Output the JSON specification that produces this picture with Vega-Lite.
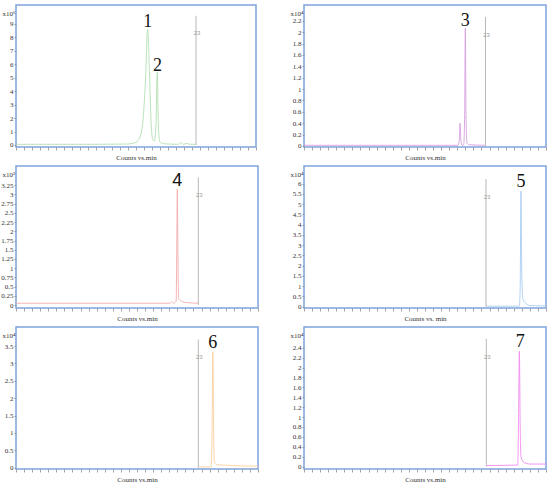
{
  "$schema": "https://vega.github.io/schema/vega-lite/v6.json",
  "description": "Six chromatogram panels (peaks 1-7) with marker lines.",
  "background": "white",
  "padding": {"left": 0, "top": 4, "right": 2, "bottom": 0},
  "datasets": {
    "traces": [
      {"panel": 1, "t": 0, "v": 0.05}, {"panel": 1, "t": 10, "v": 0.05}, {"panel": 1, "t": 14, "v": 0.07},
      {"panel": 1, "t": 15, "v": 0.2}, {"panel": 1, "t": 15.5, "v": 0.6}, {"panel": 1, "t": 15.9, "v": 2},
      {"panel": 1, "t": 16.2, "v": 5}, {"panel": 1, "t": 16.45, "v": 8.6}, {"panel": 1, "t": 16.7, "v": 5},
      {"panel": 1, "t": 16.9, "v": 1.5}, {"panel": 1, "t": 17.1, "v": 0.4}, {"panel": 1, "t": 17.3, "v": 0.3},
      {"panel": 1, "t": 17.5, "v": 1.5}, {"panel": 1, "t": 17.65, "v": 5.4}, {"panel": 1, "t": 17.8, "v": 1.5},
      {"panel": 1, "t": 17.95, "v": 0.3}, {"panel": 1, "t": 18.3, "v": 0.1}, {"panel": 1, "t": 20.3, "v": 0.05},
      {"panel": 1, "t": 20.6, "v": 0.2}, {"panel": 1, "t": 20.9, "v": 0.05}, {"panel": 1, "t": 21.4, "v": 0.12},
      {"panel": 1, "t": 21.7, "v": 0.05}, {"panel": 1, "t": 22.5, "v": 0.05},

      {"panel": 2, "t": 0, "v": 0.01}, {"panel": 2, "t": 19.1, "v": 0.01}, {"panel": 2, "t": 19.25, "v": 0.1},
      {"panel": 2, "t": 19.35, "v": 0.4}, {"panel": 2, "t": 19.45, "v": 0.1}, {"panel": 2, "t": 19.6, "v": 0.01},
      {"panel": 2, "t": 19.8, "v": 0.02}, {"panel": 2, "t": 19.92, "v": 0.6}, {"panel": 2, "t": 20.0, "v": 2.07},
      {"panel": 2, "t": 20.08, "v": 0.6}, {"panel": 2, "t": 20.2, "v": 0.05}, {"panel": 2, "t": 20.5, "v": 0.02},
      {"panel": 2, "t": 22.5, "v": 0.01},

      {"panel": 3, "t": 0, "v": 0.05}, {"panel": 3, "t": 19.1, "v": 0.05}, {"panel": 3, "t": 19.3, "v": 0.09},
      {"panel": 3, "t": 19.5, "v": 0.05}, {"panel": 3, "t": 19.85, "v": 0.1}, {"panel": 3, "t": 19.93, "v": 1.5},
      {"panel": 3, "t": 20.0, "v": 3.14}, {"panel": 3, "t": 20.07, "v": 1.5}, {"panel": 3, "t": 20.15, "v": 0.2},
      {"panel": 3, "t": 20.4, "v": 0.12}, {"panel": 3, "t": 21, "v": 0.07}, {"panel": 3, "t": 22.6, "v": 0.05},

      {"panel": 4, "t": 22.56, "v": 0.02}, {"panel": 4, "t": 26.7, "v": 0.02}, {"panel": 4, "t": 26.8, "v": 1},
      {"panel": 4, "t": 26.9, "v": 5.63}, {"panel": 4, "t": 27.0, "v": 1.5}, {"panel": 4, "t": 27.15, "v": 0.35},
      {"panel": 4, "t": 27.5, "v": 0.15}, {"panel": 4, "t": 28, "v": 0.05}, {"panel": 4, "t": 30, "v": 0.03},

      {"panel": 5, "t": 22.6, "v": 0.02}, {"panel": 5, "t": 24.2, "v": 0.02}, {"panel": 5, "t": 24.3, "v": 1},
      {"panel": 5, "t": 24.4, "v": 3.33}, {"panel": 5, "t": 24.5, "v": 1}, {"panel": 5, "t": 24.6, "v": 0.15},
      {"panel": 5, "t": 25, "v": 0.08}, {"panel": 5, "t": 30, "v": 0.04},

      {"panel": 6, "t": 22.6, "v": 0.02}, {"panel": 6, "t": 26.5, "v": 0.03}, {"panel": 6, "t": 26.6, "v": 1},
      {"panel": 6, "t": 26.7, "v": 2.33}, {"panel": 6, "t": 26.8, "v": 0.8}, {"panel": 6, "t": 26.9, "v": 0.2},
      {"panel": 6, "t": 27.3, "v": 0.08}, {"panel": 6, "t": 28, "v": 0.05}, {"panel": 6, "t": 30, "v": 0.05}
    ],
    "markers": [
      {"panel": 1, "t": 22.5, "v": 9.6},
      {"panel": 2, "t": 22.5, "v": 2.27},
      {"panel": 3, "t": 22.6, "v": 3.46},
      {"panel": 4, "t": 22.56, "v": 6.22},
      {"panel": 5, "t": 22.6, "v": 3.69},
      {"panel": 6, "t": 22.6, "v": 2.58}
    ],
    "tags": [
      {"panel": 1, "t": 22.5, "v": 8.3, "text": "23"},
      {"panel": 2, "t": 22.5, "v": 1.96, "text": "23"},
      {"panel": 3, "t": 22.6, "v": 2.99, "text": "23"},
      {"panel": 4, "t": 22.56, "v": 5.35, "text": "23"},
      {"panel": 5, "t": 22.6, "v": 3.19, "text": "23"},
      {"panel": 6, "t": 22.6, "v": 2.22, "text": "23"}
    ],
    "peaks": [
      {"panel": 1, "t": 16.46, "v": 9.1, "label": "1"},
      {"panel": 1, "t": 17.7, "v": 5.9, "label": "2"},
      {"panel": 2, "t": 20.0, "v": 2.2, "label": "3"},
      {"panel": 3, "t": 20.0, "v": 3.36, "label": "4"},
      {"panel": 4, "t": 26.9, "v": 6.08, "label": "5"},
      {"panel": 5, "t": 24.4, "v": 3.59, "label": "6"},
      {"panel": 6, "t": 26.8, "v": 2.51, "label": "7"}
    ]
  },
  "columns": 2,
  "spacing": {"row": 3, "column": 28},
  "concat": [
    {
      "width": 240, "height": 142,
      "encoding": {
        "x": {"field": "t", "type": "quantitative", "scale": {"domain": [0, 30]}, "title": "Counts vs.min"},
        "y": {"field": "v", "type": "quantitative", "scale": {"domain": [-0.15, 10.4]}, "title": "x10⁶",
              "axis": {"values": [0, 1, 2, 3, 4, 5, 6, 7, 8, 9]}}
      },
      "layer": [
        {"data": {"name": "traces"}, "transform": [{"filter": "datum.panel == 1"}],
         "mark": {"type": "line", "color": "#b2dfb2", "strokeWidth": 0.9, "interpolate": "monotone"}, "encoding": {}},
        {"data": {"name": "markers"}, "transform": [{"filter": "datum.panel == 1"}],
         "mark": {"type": "rule", "color": "#b8b8b8"}, "encoding": {"y2": {"datum": 0}}},
        {"data": {"name": "tags"}, "transform": [{"filter": "datum.panel == 1"}],
         "mark": {"type": "text", "fontSize": 6, "color": "#a0a0a0", "dx": 1}, "encoding": {"text": {"field": "text"}}},
        {"data": {"name": "peaks"}, "transform": [{"filter": "datum.panel == 1"}],
         "mark": {"type": "text", "fontSize": 18, "font": "Liberation Serif", "color": "#111"}, "encoding": {"text": {"field": "label"}}}
      ]
    },
    {
      "width": 242, "height": 142,
      "encoding": {
        "x": {"field": "t", "type": "quantitative", "scale": {"domain": [0, 30]}, "title": "Counts vs.min"},
        "y": {"field": "v", "type": "quantitative", "scale": {"domain": [-0.02, 2.48]}, "title": "x10⁴",
              "axis": {"values": [0, 0.2, 0.4, 0.6, 0.8, 1, 1.2, 1.4, 1.6, 1.8, 2, 2.2]}}
      },
      "layer": [
        {"data": {"name": "traces"}, "transform": [{"filter": "datum.panel == 2"}],
         "mark": {"type": "line", "color": "#d69ee0", "strokeWidth": 0.9, "interpolate": "monotone"}, "encoding": {}},
        {"data": {"name": "markers"}, "transform": [{"filter": "datum.panel == 2"}],
         "mark": {"type": "rule", "color": "#b8b8b8"}, "encoding": {"y2": {"datum": 0}}},
        {"data": {"name": "tags"}, "transform": [{"filter": "datum.panel == 2"}],
         "mark": {"type": "text", "fontSize": 6, "color": "#a0a0a0", "dx": 1}, "encoding": {"text": {"field": "text"}}},
        {"data": {"name": "peaks"}, "transform": [{"filter": "datum.panel == 2"}],
         "mark": {"type": "text", "fontSize": 18, "font": "Liberation Serif", "color": "#111"}, "encoding": {"text": {"field": "label"}}}
      ]
    },
    {
      "width": 242, "height": 142,
      "encoding": {
        "x": {"field": "t", "type": "quantitative", "scale": {"domain": [0, 30]}, "title": "Counts vs.min"},
        "y": {"field": "v", "type": "quantitative", "scale": {"domain": [-0.08, 3.77]}, "title": "x10³",
              "axis": {"values": [0, 0.25, 0.5, 0.75, 1, 1.25, 1.5, 1.75, 2, 2.25, 2.5, 2.75, 3, 3.25]}}
      },
      "layer": [
        {"data": {"name": "traces"}, "transform": [{"filter": "datum.panel == 3"}],
         "mark": {"type": "line", "color": "#f2aaaa", "strokeWidth": 0.9, "interpolate": "monotone"}, "encoding": {}},
        {"data": {"name": "markers"}, "transform": [{"filter": "datum.panel == 3"}],
         "mark": {"type": "rule", "color": "#b8b8b8"}, "encoding": {"y2": {"datum": 0}}},
        {"data": {"name": "tags"}, "transform": [{"filter": "datum.panel == 3"}],
         "mark": {"type": "text", "fontSize": 6, "color": "#a0a0a0", "dx": 1}, "encoding": {"text": {"field": "text"}}},
        {"data": {"name": "peaks"}, "transform": [{"filter": "datum.panel == 3"}],
         "mark": {"type": "text", "fontSize": 18, "font": "Liberation Sans", "color": "#111"}, "encoding": {"text": {"field": "label"}}}
      ]
    },
    {
      "width": 242, "height": 142,
      "encoding": {
        "x": {"field": "t", "type": "quantitative", "scale": {"domain": [0, 30]}, "title": "Counts vs. min"},
        "y": {"field": "v", "type": "quantitative", "scale": {"domain": [-0.07, 6.86]}, "title": "x10⁴",
              "axis": {"values": [0, 0.5, 1, 1.5, 2, 2.5, 3, 3.5, 4, 4.5, 5, 5.5, 6]}}
      },
      "layer": [
        {"data": {"name": "traces"}, "transform": [{"filter": "datum.panel == 4"}],
         "mark": {"type": "line", "color": "#a8cdf2", "strokeWidth": 0.9, "interpolate": "monotone"}, "encoding": {}},
        {"data": {"name": "markers"}, "transform": [{"filter": "datum.panel == 4"}],
         "mark": {"type": "rule", "color": "#b8b8b8"}, "encoding": {"y2": {"datum": 0}}},
        {"data": {"name": "tags"}, "transform": [{"filter": "datum.panel == 4"}],
         "mark": {"type": "text", "fontSize": 6, "color": "#a0a0a0", "dx": 1}, "encoding": {"text": {"field": "text"}}},
        {"data": {"name": "peaks"}, "transform": [{"filter": "datum.panel == 4"}],
         "mark": {"type": "text", "fontSize": 18, "font": "Liberation Serif", "color": "#111"}, "encoding": {"text": {"field": "label"}}}
      ]
    },
    {
      "width": 242, "height": 142,
      "encoding": {
        "x": {"field": "t", "type": "quantitative", "scale": {"domain": [0, 30]}, "title": "Counts vs.min"},
        "y": {"field": "v", "type": "quantitative", "scale": {"domain": [-0.04, 4.05]}, "title": "x10⁴",
              "axis": {"values": [0, 0.5, 1, 1.5, 2, 2.5, 3, 3.5]}}
      },
      "layer": [
        {"data": {"name": "traces"}, "transform": [{"filter": "datum.panel == 5"}],
         "mark": {"type": "line", "color": "#f9cf9c", "strokeWidth": 0.9, "interpolate": "monotone"}, "encoding": {}},
        {"data": {"name": "markers"}, "transform": [{"filter": "datum.panel == 5"}],
         "mark": {"type": "rule", "color": "#b8b8b8"}, "encoding": {"y2": {"datum": 0}}},
        {"data": {"name": "tags"}, "transform": [{"filter": "datum.panel == 5"}],
         "mark": {"type": "text", "fontSize": 6, "color": "#a0a0a0", "dx": 1}, "encoding": {"text": {"field": "text"}}},
        {"data": {"name": "peaks"}, "transform": [{"filter": "datum.panel == 5"}],
         "mark": {"type": "text", "fontSize": 18, "font": "Liberation Serif", "color": "#111"}, "encoding": {"text": {"field": "label"}}}
      ]
    },
    {
      "width": 242, "height": 142,
      "encoding": {
        "x": {"field": "t", "type": "quantitative", "scale": {"domain": [0, 30]}, "title": "Counts vs.min"},
        "y": {"field": "v", "type": "quantitative", "scale": {"domain": [-0.05, 2.82]}, "title": "x10⁴",
              "axis": {"values": [0, 0.2, 0.4, 0.6, 0.8, 1, 1.2, 1.4, 1.6, 1.8, 2, 2.2, 2.4]}}
      },
      "layer": [
        {"data": {"name": "traces"}, "transform": [{"filter": "datum.panel == 6"}],
         "mark": {"type": "line", "color": "#f28af2", "strokeWidth": 0.9, "interpolate": "monotone"}, "encoding": {}},
        {"data": {"name": "markers"}, "transform": [{"filter": "datum.panel == 6"}],
         "mark": {"type": "rule", "color": "#b8b8b8"}, "encoding": {"y2": {"datum": 0}}},
        {"data": {"name": "tags"}, "transform": [{"filter": "datum.panel == 6"}],
         "mark": {"type": "text", "fontSize": 6, "color": "#a0a0a0", "dx": 1}, "encoding": {"text": {"field": "text"}}},
        {"data": {"name": "peaks"}, "transform": [{"filter": "datum.panel == 6"}],
         "mark": {"type": "text", "fontSize": 18, "font": "Liberation Serif", "color": "#111"}, "encoding": {"text": {"field": "label"}}}
      ]
    }
  ],
  "config": {
    "view": {"stroke": "#7ea3dc", "strokeWidth": 1.5},
    "axisX": {
      "domain": false, "labels": false, "grid": false, "tickCount": 30,
      "tickColor": "#8a8a8a", "tickSize": 3, "tickWidth": 0.8,
      "titleFont": "Liberation Serif", "titleFontSize": 7, "titleFontWeight": "normal",
      "titleColor": "#333", "titlePadding": 3
    },
    "axisY": {
      "domain": false, "grid": false, "format": ".3~g",
      "tickColor": "#8a8a8a", "tickSize": 2, "tickWidth": 0.8,
      "labelFont": "Liberation Serif", "labelFontSize": 7, "labelColor": "#333", "labelPadding": 1,
      "titleAngle": 0, "titleAlign": "left", "titleBaseline": "top",
      "titleX": -14, "titleY": 4, "titleFont": "Liberation Serif", "titleFontSize": 7,
      "titleFontWeight": "normal", "titleColor": "#333"
    }
  }
}
